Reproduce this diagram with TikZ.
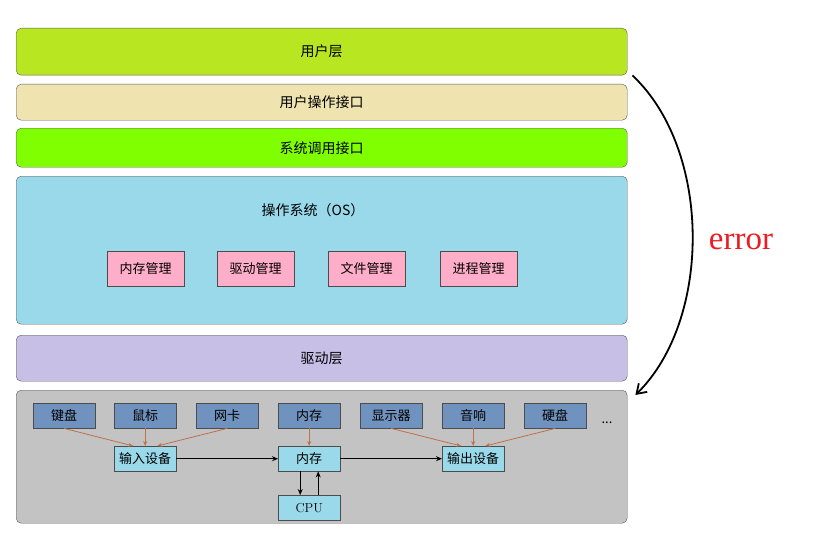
\documentclass[tikz,border=0pt]{standalone}
\usepackage{fontspec}
\newfontfamily\cjk{Noto Sans CJK SC}
\newfontfamily\errfont{Liberation Serif}
\usetikzlibrary{arrows.meta,positioning}

\definecolor{userc}{HTML}{B8E620}
\definecolor{uic}{HTML}{EFE3B0}
\definecolor{sysc}{HTML}{80FF00}
\definecolor{osc}{HTML}{99D9EA}
\definecolor{mgrc}{HTML}{FFAEC9}
\definecolor{drvc}{HTML}{C8BFE7}
\definecolor{hwc}{HTML}{C3C3C3}
\definecolor{devc}{HTML}{7092BE}
\definecolor{feedc}{HTML}{C0704A}
\definecolor{errc}{HTML}{ED1C24}

\tikzset{
  layer/.style={draw=black!65,rounded corners=5pt,anchor=north west,inner sep=0pt,minimum width=611pt},
  mgr/.style={draw=black!70,fill=mgrc,anchor=north west,inner sep=0pt,minimum width=77pt,minimum height=35pt},
  dev/.style={draw=black!70,fill=devc,anchor=north west,inner sep=0pt,minimum width=62pt,minimum height=25pt},
  unit/.style={draw=black!70,fill=osc,anchor=north west,inner sep=0pt,minimum width=62pt,minimum height=25pt},
  feed/.style={->,draw=feedc,line width=0.8pt,>={Stealth[length=5pt,width=4pt]}},
  flow/.style={->,line width=1.1pt,>={Stealth[length=6pt,width=5pt]}}
}

\begin{document}
\begin{tikzpicture}[x=1pt,y=-1pt,font=\cjk\fontsize{13}{15}\selectfont]
  \useasboundingbox (0,0) rectangle (820,535);

  % layers
  \node[layer,fill=userc,minimum height=47pt,font=\cjk\fontsize{14}{16}\selectfont] (user) at (16,28) {用户层};
  \node[layer,fill=uic,minimum height=36pt,font=\cjk\fontsize{14}{16}\selectfont] (ui) at (16,84) {用户操作接口};
  \node[layer,fill=sysc,minimum height=39pt,font=\cjk\fontsize{14}{16}\selectfont] (sys) at (16,128) {系统调用接口};
  \node[layer,fill=osc,minimum height=148pt] (os) at (16,176) {};
  \node[font=\cjk\fontsize{14}{16}\selectfont] (oslabel) at (313,210) {操作系统（OS）};
  \node[layer,fill=drvc,minimum height=46pt,font=\cjk\fontsize{14}{16}\selectfont] (drv) at (16,335) {驱动层};
  \node[layer,fill=hwc,minimum height=133pt] (hw) at (16,390) {};

  % managers
  \foreach \x/\n/\t in {107/memmgr/内存管理,217/drvmgr/驱动管理,328/filemgr/文件管理,440/procmgr/进程管理}
    \node[mgr] (\n) at (\x,251) {\t};

  % devices
  \foreach \x/\n/\t in {33/kbd/键盘,114/mouse/鼠标,196/nic/网卡,278/ram/内存,360/disp/显示器,442/spk/音响,524/hdd/硬盘}
    \node[dev] (\n) at (\x,403) {\t};
  \node (more) at (607,423) {...};

  \node[unit] (in) at (114,446) {输入设备};
  \node[unit] (mem) at (278,446) {内存};
  \node[unit] (out) at (442,446) {输出设备};
  \node[unit,font=\rmfamily\fontsize{13}{15}\selectfont] (cpu) at (278,495) {CPU};

  \draw[feed] (kbd.south) -- ([xshift=-12pt]in.north);
  \draw[feed] (mouse.south) -- (in.north);
  \draw[feed] (nic.south) -- ([xshift=12pt]in.north);
  \draw[feed] (ram.south) -- (mem.north);
  \draw[feed] (disp.south) -- ([xshift=-12pt]out.north);
  \draw[feed] (spk.south) -- (out.north);
  \draw[feed] (hdd.south) -- ([xshift=12pt]out.north);

  \draw[flow] (in) -- (mem);
  \draw[flow] (mem) -- (out);
  \draw[flow,line width=0.9pt] ([xshift=-9pt]mem.south) -- ([xshift=-9pt]cpu.north);
  \draw[flow,line width=0.9pt] ([xshift=9pt]cpu.north) -- ([xshift=9pt]mem.south);

  % error path
  \coordinate (errfrom) at ([xshift=5pt]user.south east);
  \coordinate (errto) at ([shift={(8pt,-5pt)}]hw.north east);
  \draw[->,line width=1.8pt,>={Straight Barb[length=9pt,width=12pt]}] (errfrom) .. controls (712,150) and (712,320) .. (errto);
  \node[text=errc,font=\errfont\fontsize{33}{36}\selectfont] (err) at (741,242) {error};
\end{tikzpicture}
\end{document}
